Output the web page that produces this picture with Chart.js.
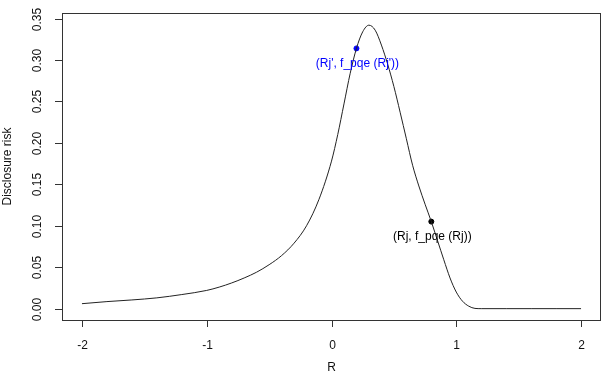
<!DOCTYPE html>
<html>
<head>
<meta charset="utf-8">
<script src="https://cdn.jsdelivr.net/npm/chart.js@4/dist/chart.umd.min.js"></script>
<style>
  html, body { margin: 0; padding: 0; background: #fff; }
  canvas { display: block; }
</style>
</head>
<body>
<canvas id="riskChart" width="602" height="382"></canvas>
<script>
// curve values
const rValues = [-2, -1.8, -1.6, -1.4, -1.2, -1, -0.9, -0.8, -0.7, -0.6, -0.5, -0.4, -0.3, -0.2, -0.1,
  0, 0.05, 0.1, 0.15, 0.2, 0.25, 0.3, 0.35, 0.4, 0.45, 0.5, 0.55, 0.6, 0.65, 0.7, 0.75, 0.8, 0.85,
  0.9, 0.95, 1, 1.05, 1.1, 1.15, 1.2, 1.4, 1.6, 1.8, 2];
const riskValues = [0.006, 0.0085, 0.0105, 0.013, 0.017, 0.022, 0.026, 0.031, 0.037, 0.044, 0.053, 0.064, 0.079, 0.1, 0.132,
  0.178, 0.21, 0.247, 0.284, 0.314, 0.334, 0.342, 0.336, 0.318, 0.295, 0.268, 0.237, 0.205, 0.173, 0.148, 0.126, 0.105, 0.082,
  0.059, 0.037, 0.02, 0.009, 0.003, 0.0003, 0, 0, 0, 0, 0];

// marked points
const pointPrime = { x: 0.2, y: 0.314, label: "(Rj', f_pqe (Rj'))", color: '#0000ff' };
const pointJ = { x: 0.8, y: 0.105, label: '(Rj, f_pqe (Rj))', color: '#000000' };

// axis ticks
const xTicks = [-2, -1, 0, 1, 2];
const xTickLabels = ['-2', '-1', '0', '1', '2'];
const yTicks = [0, 0.05, 0.10, 0.15, 0.20, 0.25, 0.30, 0.35];
const yTickLabels = ['0.00', '0.05', '0.10', '0.15', '0.20', '0.25', '0.30', '0.35'];

const FONT = '12px "Liberation Sans", Arial, sans-serif';

// draws the R-style box, ticks and texts
const baseGraphics = {
  id: 'baseGraphics',
  afterDatasetsDraw(chart) {
    const ctx = chart.ctx;
    const area = chart.chartArea;
    const xs = chart.scales.x;
    const ys = chart.scales.y;
    ctx.save();
    ctx.strokeStyle = '#333';
    ctx.lineWidth = 1;
    ctx.strokeRect(Math.round(area.left) + 0.5, Math.round(area.top) + 0.5,
      Math.round(area.right - area.left) - 1, Math.round(area.bottom - area.top));

    ctx.font = FONT;
    ctx.fillStyle = '#111';

    // x axis
    ctx.textAlign = 'center';
    ctx.textBaseline = 'middle';
    xTicks.forEach(function (v, i) {
      const px = Math.round(xs.getPixelForValue(v)) + 0.5;
      ctx.beginPath();
      ctx.moveTo(px, area.bottom);
      ctx.lineTo(px, area.bottom + 7);
      ctx.stroke();
      ctx.fillText(xTickLabels[i], px, area.bottom + 26);
    });
    ctx.fillText('R', (area.left + area.right) / 2, area.bottom + 48);

    // y axis (labels rotated like R's default)
    yTicks.forEach(function (v, i) {
      const py = Math.round(ys.getPixelForValue(v)) + 0.5;
      ctx.beginPath();
      ctx.moveTo(area.left, py);
      ctx.lineTo(area.left - 7, py);
      ctx.stroke();
      ctx.save();
      ctx.translate(area.left - 24, py);
      ctx.rotate(-Math.PI / 2);
      ctx.fillText(yTickLabels[i], 0, 0);
      ctx.restore();
    });
    ctx.save();
    ctx.translate(8, (area.top + area.bottom) / 2);
    ctx.rotate(-Math.PI / 2);
    ctx.fillText('Disclosure risk', 0, 0);
    ctx.restore();

    // point labels under the points
    [pointPrime, pointJ].forEach(function (p) {
      ctx.fillStyle = p.color;
      ctx.fillText(p.label, xs.getPixelForValue(p.x) + 1, ys.getPixelForValue(p.y) + 15);
    });
    ctx.restore();
  }
};

const ctxRisk = document.getElementById('riskChart').getContext('2d');
const riskChart = new Chart(ctxRisk, {
  type: 'scatter',
  data: {
    datasets: [{
      label: 'curve',
      data: rValues.map((r, i) => ({ x: r, y: riskValues[i] })),
      showLine: true,
      borderColor: '#222',
      borderWidth: 1,
      pointRadius: 0,
      cubicInterpolationMode: 'monotone'
    }, {
      label: 'Rj prime',
      data: [{ x: pointPrime.x, y: pointPrime.y }],
      pointRadius: 2.5,
      pointBackgroundColor: pointPrime.color,
      pointBorderColor: pointPrime.color
    }, {
      label: 'Rj',
      data: [{ x: pointJ.x, y: pointJ.y }],
      pointRadius: 2.5,
      pointBackgroundColor: pointJ.color,
      pointBorderColor: pointJ.color
    }]
  },
  options: {
    responsive: false,
    animation: false,
    devicePixelRatio: 1,
    layout: { autoPadding: false, padding: { left: 62, top: 13, right: 1, bottom: 62 } },
    scales: {
      x: { type: 'linear', display: false, min: -2.16, max: 2.16 },
      y: { type: 'linear', display: false, min: -0.0137, max: 0.3567 }
    },
    plugins: {
      legend: { display: false },
      tooltip: { enabled: false }
    }
  },
  plugins: [baseGraphics]
});
</script>
</body>
</html>
